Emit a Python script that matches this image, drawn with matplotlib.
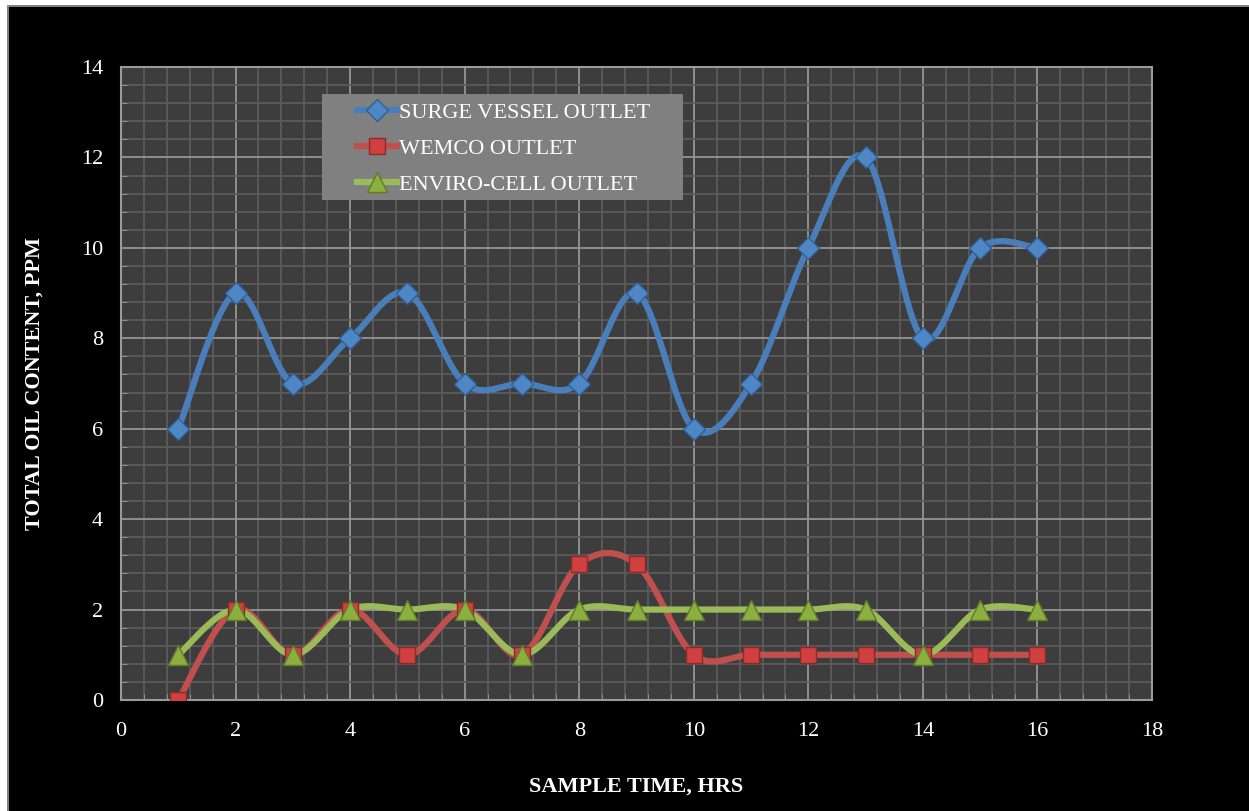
import numpy as np
import matplotlib
matplotlib.use("Agg")
import matplotlib.pyplot as plt
from matplotlib.patches import Rectangle
from matplotlib.lines import Line2D
from matplotlib.ticker import MultipleLocator

# Sample times (hours) and total oil content readings (ppm)
hours = [1, 2, 3, 4, 5, 6, 7, 8, 9, 10, 11, 12, 13, 14, 15, 16]
surge_vessel = [6, 9, 7, 8, 9, 7, 7, 7, 9, 6, 7, 10, 12, 8, 10, 10]
wemco = [0, 2, 1, 2, 1, 2, 1, 3, 3, 1, 1, 1, 1, 1, 1, 1]
enviro_cell = [1, 2, 1, 2, 2, 2, 1, 2, 2, 2, 2, 2, 2, 1, 2, 2]

series_names = ["SURGE VESSEL OUTLET", "WEMCO OUTLET", "ENVIRO-CELL OUTLET"]
x_label = "SAMPLE TIME, HRS"
y_label = "TOTAL OIL CONTENT, PPM"


def smooth(x, y, steps=40):
    """Catmull-Rom style smoothing through every point (spreadsheet 'smoothed line')."""
    x = np.asarray(x, float)
    y = np.asarray(y, float)
    n = len(x)
    xs, ys = [], []
    for i in range(n - 1):
        p0 = i - 1 if i > 0 else i
        p3 = i + 2 if i + 2 < n else i + 1
        mx0 = (x[i + 1] - x[p0]) / 2.0
        my0 = (y[i + 1] - y[p0]) / 2.0
        mx1 = (x[p3] - x[i]) / 2.0
        my1 = (y[p3] - y[i]) / 2.0
        t = np.linspace(0, 1, steps, endpoint=(i == n - 2))
        h00 = 2 * t**3 - 3 * t**2 + 1
        h10 = t**3 - 2 * t**2 + t
        h01 = -2 * t**3 + 3 * t**2
        h11 = t**3 - t**2
        xs.append(h00 * x[i] + h10 * mx0 + h01 * x[i + 1] + h11 * mx1)
        ys.append(h00 * y[i] + h10 * my0 + h01 * y[i + 1] + h11 * my1)
    return np.concatenate(xs), np.concatenate(ys)


plt.rcParams["font.family"] = ["Liberation Serif", "DejaVu Serif"]

fig = plt.figure(figsize=(12.49, 8.11), dpi=100, facecolor="black")

# white margin along the left and top edges
W, H = 1249, 811
fig.patches.append(Rectangle((0, 0), 7 / W, 1, transform=fig.transFigure,
                             facecolor="white", edgecolor="none", zorder=0))
fig.patches.append(Rectangle((0, 1 - 5 / H), 1, 5 / H, transform=fig.transFigure,
                             facecolor="white", edgecolor="none", zorder=0))
fig.lines.append(Line2D([7.5 / W, 7.5 / W], [0, 1 - 5.5 / H], transform=fig.transFigure,
                        color="#9a9a9a", lw=1.2))
fig.lines.append(Line2D([7.5 / W, 1], [1 - 5.5 / H, 1 - 5.5 / H], transform=fig.transFigure,
                        color="#9a9a9a", lw=1.2))

AX_L, AX_B, AX_W, AX_H = 121, 111, 1031, 633
ax = fig.add_axes([AX_L / W, AX_B / H, AX_W / W, AX_H / H])
ax.set_facecolor("#3d3d3d")

ax.set_xlim(0, 18)
ax.set_ylim(0, 14)
ax.xaxis.set_major_locator(MultipleLocator(2))
ax.yaxis.set_major_locator(MultipleLocator(2))
ax.xaxis.set_minor_locator(MultipleLocator(0.4))
ax.yaxis.set_minor_locator(MultipleLocator(0.4))

ax.grid(which="minor", color="#5c5c5c", lw=1.3, zorder=0)
ax.grid(which="major", color="#959595", lw=1.3, zorder=0)
ax.set_axisbelow(True)

for s in ax.spines.values():
    s.set_color("#9a9a9a")
    s.set_linewidth(1.5)

ax.tick_params(which="major", length=0, colors="white", labelsize=16)
ax.tick_params(which="minor", direction="in", length=4, color="#9a9a9a")
ax.tick_params(axis="x", pad=16)
ax.tick_params(axis="y", pad=13)
for lab in ax.get_xticklabels() + ax.get_yticklabels():
    lab.set_color("white")

styles = [
    dict(color="#4a7ebb", marker="D", ms=11.5, mfc="#4f86c6", mec="#2f5f95"),
    dict(color="#c0504d", marker="s", ms=12, mfc="#d04040", mec="#8c2a28"),
    dict(color="#9bbb59", marker="^", ms=14, mfc="#8cb040", mec="#5e7a2a"),
]
values = [surge_vessel, wemco, enviro_cell]

for name, yv, st in zip(series_names, values, styles):
    sx, sy = smooth(hours, yv)
    ax.plot(sx, sy, color=st["color"], lw=4.5, solid_capstyle="round", zorder=3)
    ax.plot(hours, yv, ls="none", marker=st["marker"], ms=st["ms"],
            mfc=st["mfc"], mec=st["mec"], mew=1.0, zorder=4)

# legend panel
def px_to_ax(px, py):
    return (px - AX_L) / AX_W, (H - AX_B - py) / AX_H

lx0, ly0 = px_to_ax(322, 200)
lx1, ly1 = px_to_ax(683, 94)
ax.add_patch(Rectangle((lx0, ly0), lx1 - lx0, ly1 - ly0, transform=ax.transAxes,
                       facecolor="#808080", edgecolor="none", zorder=6))

handles = [Line2D([], [], color=st["color"], lw=4.5, marker=st["marker"], ms=st["ms"],
                  mfc=st["mfc"], mec=st["mec"], mew=1.0) for st in styles]
anchor = px_to_ax(357, 102)
leg = ax.legend(handles, series_names, loc="upper left",
                bbox_to_anchor=anchor, borderaxespad=0, borderpad=0,
                frameon=False, fontsize=16, handlelength=1.8, handletextpad=0.1,
                labelspacing=0.7)
leg.set_zorder(7)
for t in leg.get_texts():
    t.set_color("white")

fig.text(636 / W, 1 - 787 / H, x_label, color="white", fontsize=16, fontweight="bold",
         ha="center", va="center")
fig.text(35 / W, 1 - 384 / H, y_label, color="white", fontsize=16, fontweight="bold",
         ha="center", va="center", rotation=90)

fig.savefig("out.png", dpi=100, facecolor=fig.get_facecolor())
